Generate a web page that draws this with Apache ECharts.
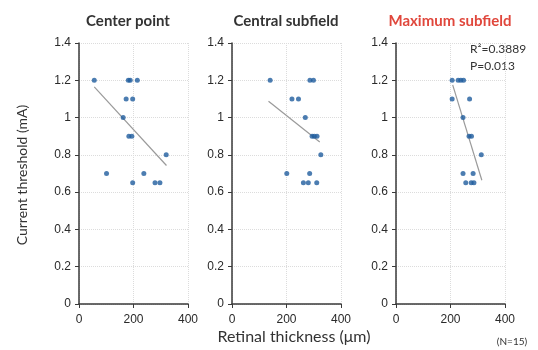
<!DOCTYPE html>
<html>
<head>
<meta charset="utf-8">
<script src="https://cdn.jsdelivr.net/npm/echarts@6/dist/echarts.min.js"></script>
<style>
html,body{margin:0;padding:0;background:#fff;}
#chart{width:538px;height:350px;}
</style>
</head>
<body>
<div id="chart"></div>
<script>
// ---- data ----
const panelTitles = ['Center point', 'Central subfield', 'Maximum subfield'];
const yAxisTitle = 'Current threshold (mA)';
const xAxisTitle = 'Retinal thickness (\u03bcm)';
const noteN = '(N=15)';
const statsText = ['R\u00b2=0.3889', 'P=0.013'];

// Center point
const centerX = [56, 181, 188, 214, 173, 197, 162, 183, 194, 320, 101, 238, 197, 279, 297];
const centerY = [1.2, 1.2, 1.2, 1.2, 1.1, 1.1, 1.0, 0.9, 0.9, 0.8, 0.7, 0.7, 0.65, 0.65, 0.65];
const centerTrend = [[56, 1.165], [321, 0.743]];

// Central subfield
const subX = [140, 286, 299, 220, 244, 269, 294, 302, 312, 326, 201, 285, 262, 280, 311];
const subY = [1.2, 1.2, 1.2, 1.1, 1.1, 1.0, 0.9, 0.9, 0.9, 0.8, 0.7, 0.7, 0.65, 0.65, 0.65];
const subTrend = [[134, 1.088], [322, 0.869]];

// Maximum subfield
const maxX = [206, 228, 238, 248, 206, 270, 246, 268, 277, 313, 246, 283, 256, 276, 286];
const maxY = [1.2, 1.2, 1.2, 1.2, 1.1, 1.1, 1.0, 0.9, 0.9, 0.8, 0.7, 0.7, 0.65, 0.65, 0.65];
const maxTrend = [[208, 1.175], [315, 0.664]];

const xMin = 0, xMax = 400, xStep = 200;
const yMin = 0, yMax = 1.4, yStep = 0.2;

const panelsX = [centerX, subX, maxX];
const panelsY = [centerY, subY, maxY];
const trends = [centerTrend, subTrend, maxTrend];

// ---- layout ----
const gridLefts = [79, 232, 396];
const gridWidth = 109;
const titleCenters = [128, 286, 450];
const titleColors = ['#333333', '#333333', '#e0473c'];
const FONT = 'Lato, "Open Sans", sans-serif';
const AXFONT = '"Liberation Sans", Arial, sans-serif';

const chart = echarts.init(document.getElementById('chart'), null, {renderer: 'canvas'});

const grids = [], xAxes = [], yAxes = [], series = [];
for (let i = 0; i < 3; i++) {
  grids.push({left: gridLefts[i], width: gridWidth, top: 43, bottom: 46});
  xAxes.push({
    type: 'value', gridIndex: i, min: xMin, max: xMax, interval: xStep,
    axisLine: {show: true, onZero: false, lineStyle: {color: '#3a3a3a', width: 1.5}},
    axisTick: {show: true, length: 4, lineStyle: {color: '#3a3a3a'}},
    axisLabel: {color: '#2a2a2a', fontFamily: AXFONT, fontSize: 12, margin: 10},
    splitLine: {show: true, lineStyle: {color: '#dcdcdc', type: 'dotted', width: 1}}
  });
  yAxes.push({
    type: 'value', gridIndex: i, min: yMin, max: yMax, interval: yStep,
    axisLine: {show: true, onZero: false, lineStyle: {color: '#3a3a3a', width: 1.5}},
    axisTick: {show: true, length: 4, lineStyle: {color: '#3a3a3a'}},
    axisLabel: {color: '#2a2a2a', fontFamily: AXFONT, fontSize: 12, margin: 8,
      formatter: v => String(Math.round(v * 10) / 10)},
    splitLine: {show: true, lineStyle: {color: '#dcdcdc', type: 'dotted', width: 1}}
  });
  series.push({
    type: 'line', xAxisIndex: i, yAxisIndex: i,
    data: trends[i], symbol: 'none', silent: true,
    lineStyle: {color: '#9a9a9a', width: 1.2}, z: 2
  });
  series.push({
    type: 'scatter', xAxisIndex: i, yAxisIndex: i,
    data: panelsX[i].map((x, k) => [x, panelsY[i][k]]),
    symbolSize: 5, itemStyle: {color: '#1f5c9e'}, z: 3
  });
}

const graphics = [];
for (let i = 0; i < 3; i++) {
  graphics.push({type: 'text', x: titleCenters[i], y: 21,
    style: {text: panelTitles[i], fill: titleColors[i], font: 'bold 15px ' + FONT,
      textAlign: 'center', textVerticalAlign: 'middle'}});
}
graphics.push({type: 'text', x: 22, y: 175, rotation: Math.PI / 2,
  style: {text: yAxisTitle, fill: '#333', font: '14px ' + FONT, textAlign: 'center', textVerticalAlign: 'middle'}});
graphics.push({type: 'text', x: 294, y: 337,
  style: {text: xAxisTitle, fill: '#333', font: '16px ' + FONT, textAlign: 'center', textVerticalAlign: 'middle'}});
graphics.push({type: 'text', x: 512, y: 342,
  style: {text: noteN, fill: '#333', font: '10px ' + FONT, textAlign: 'center', textVerticalAlign: 'middle'}});
graphics.push({type: 'text', x: 470, y: 49,
  style: {text: statsText[0], fill: '#333', font: '12px ' + FONT, textAlign: 'left', textVerticalAlign: 'middle'}});
graphics.push({type: 'text', x: 470, y: 66,
  style: {text: statsText[1], fill: '#333', font: '12px ' + FONT, textAlign: 'left', textVerticalAlign: 'middle'}});

chart.setOption({
  animation: false,
  backgroundColor: '#ffffff',
  grid: grids, xAxis: xAxes, yAxis: yAxes, series: series,
  graphic: graphics
});
</script>
</body>
</html>
